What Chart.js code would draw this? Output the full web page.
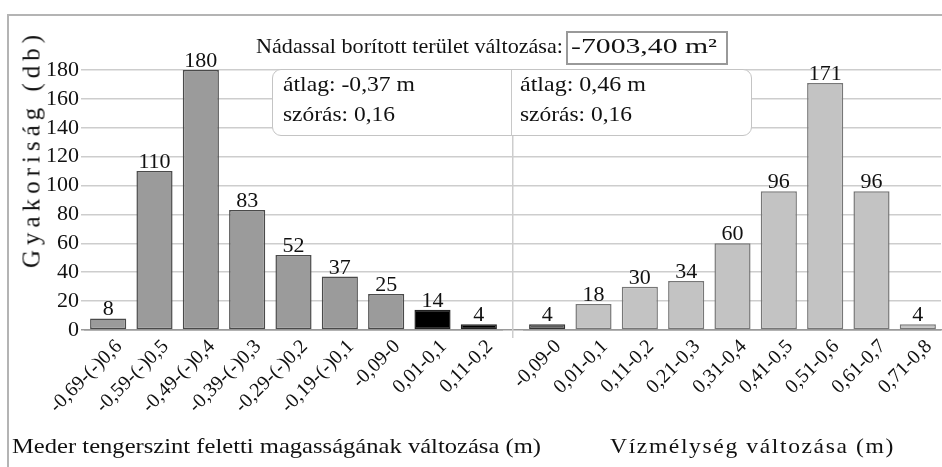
<!DOCTYPE html>
<html>
<head>
<meta charset="utf-8">
<script src="https://cdn.jsdelivr.net/npm/chart.js@4.4.1/dist/chart.umd.min.js"></script>
<style>
  html, body { margin: 0; padding: 0; background: #fff; }
  #wrap { position: relative; width: 942px; height: 467px; overflow: hidden; background: #fff;
          font-family: 'Liberation Serif', 'Times New Roman', serif; color: #111; }
  #frame { position: absolute; left: 7px; top: 14px; width: 980px; height: 500px;
           border-left: 2px solid #b4b4b4; border-top: 2px solid #b4b4b4; }
  canvas { position: absolute; top: 0; }
  #cL { left: 0; }
  #cR { left: 400px; }
  .t { position: absolute; white-space: nowrap; line-height: 22px; transform-origin: 0 50%; display: inline-block; }
  #ytitle { position: absolute; left: 31px; top: 149px; font-size: 25px; letter-spacing: 5px; white-space: nowrap;
            transform: translate(-50%, -50%) rotate(-90deg); line-height: 25px; }
  #valbox { position: absolute; left: 566px; top: 31px; width: 158px; height: 30px; border: 2px solid #999; background: #fff; }
  #stats { position: absolute; left: 272px; top: 69px; width: 478px; height: 65px; border: 1.5px solid #c4c4c4;
           border-radius: 9px; background: #fff; }
  #statsDiv { position: absolute; left: 511px; top: 70px; width: 0; height: 66px; border-left: 1.5px solid #c8c8c8; }
</style>
</head>
<body>
<div id="wrap">
  <div id="frame"></div>
  <canvas id="cL" width="524" height="467"></canvas>
  <canvas id="cR" width="542" height="467"></canvas>
  <div id="ytitle">Gyakoriság (db)</div>
  <div id="valbox"></div>
  <div id="stats"></div>
  <div id="statsDiv"></div>
</div>
<script>
// ---- data ----
const leftCategories = ['-0,69-(-)0,6', '-0,59-(-)0,5', '-0,49-(-)0,4', '-0,39-(-)0,3', '-0,29-(-)0,2', '-0,19-(-)0,1', '-0,09-0', '0,01-0,1', '0,11-0,2'];
const leftValues = [8, 110, 180, 83, 52, 37, 25, 14, 4];
const rightCategories = ['-0,09-0', '0,01-0,1', '0,11-0,2', '0,21-0,3', '0,31-0,4', '0,41-0,5', '0,51-0,6', '0,61-0,7', '0,71-0,8'];
const rightValues = [4, 18, 30, 34, 60, 96, 171, 96, 4];
const yTickValues = [0, 20, 40, 60, 80, 100, 120, 140, 160, 180];
const mainTitle = 'Nádassal borított terület változása:';
const areaChange = '-7003,40 m²';
const leftStats = ['átlag: -0,37 m', 'szórás: 0,16'];
const rightStats = ['átlag: 0,46 m', 'szórás: 0,16'];
const leftAxisTitle = 'Meder tengerszint feletti magasságának változása (m)';
const rightAxisTitle = 'Vízmélység változása (m)';

// ---- styles ----
const F = "'Liberation Serif', 'Times New Roman', serif";
const GRID = '#cdcdcd';
const AXIS = '#9a9a9a';
const leftFill = ['#9b9b9b', '#9b9b9b', '#9b9b9b', '#9b9b9b', '#9b9b9b', '#9b9b9b', '#9b9b9b', '#000000', '#000000'];
const leftBorder = ['#4a4a4a', '#4a4a4a', '#4a4a4a', '#4a4a4a', '#4a4a4a', '#4a4a4a', '#4a4a4a', '#222222', '#222222'];
const rightFill = ['#5c5c5c', '#c3c3c3', '#c3c3c3', '#c3c3c3', '#c3c3c3', '#c3c3c3', '#c3c3c3', '#c3c3c3', '#c3c3c3'];
const rightBorder = ['#333333', '#777777', '#777777', '#777777', '#777777', '#777777', '#777777', '#777777', '#777777'];

function alignPx(p, w) { return Math.round(p - w / 2) + w / 2; }

const valueLabels = {
  id: 'valueLabels',
  afterDatasetsDraw(chart) {
    const ctx = chart.ctx;
    const meta = chart.getDatasetMeta(0);
    const ds = chart.data.datasets[0];
    ctx.save();
    ctx.font = '22px ' + F;
    ctx.fillStyle = '#111';
    ctx.textAlign = 'center';
    ctx.textBaseline = 'alphabetic';
    meta.data.forEach((bar, i) => ctx.fillText(String(ds.data[i]), bar.x, bar.y - 3));
    ctx.restore();
  }
};

// extends horizontal grid lines across the gap between the two panels and draws the divider
const gapLines = {
  id: 'gapLines',
  beforeDatasetsDraw(chart) {
    const ctx = chart.ctx;
    const ys = chart.scales.y;
    const {right, top, bottom} = chart.chartArea;
    ctx.save();
    ctx.lineWidth = 1.5;
    ys.ticks.forEach(t => {
      const y = alignPx(ys.getPixelForValue(t.value), 1.5);
      ctx.strokeStyle = t.value === 0 ? AXIS : GRID;
      ctx.beginPath(); ctx.moveTo(right, y); ctx.lineTo(chart.width, y); ctx.stroke();
    });
    const xd = alignPx((right + chart.width) / 2, 1.5);
    ctx.strokeStyle = GRID;
    ctx.beginPath(); ctx.moveTo(xd, top); ctx.lineTo(xd, bottom + 8); ctx.stroke();
    ctx.restore();
  }
};

function makeChart(id, labels, values, fill, border, showY, padLeft, padRight, extraPlugins) {
  return new Chart(document.getElementById(id), {
    type: 'bar',
    data: {
      labels: labels,
      datasets: [{
        data: values,
        backgroundColor: fill,
        borderColor: border,
        borderWidth: 1.5,
        borderSkipped: false,
        barPercentage: 0.78,
        categoryPercentage: 1
      }]
    },
    options: {
      responsive: false,
      animation: false,
      devicePixelRatio: 1,
      layout: { padding: { left: padLeft, right: padRight, top: 70, bottom: 0 } },
      plugins: { legend: { display: false }, tooltip: { enabled: false }, title: { display: false } },
      scales: {
        x: {
          offset: true,
          grid: { display: false, drawTicks: false },
          border: { display: true, color: AXIS, width: 1.5 },
          ticks: {
            autoSkip: false, minRotation: 45, maxRotation: 45, labelOffset: 11, padding: 5,
            color: '#111', font: { family: F, size: 20 }
          },
          afterFit(s) { s.height = 137; }
        },
        y: {
          min: 0, max: 180,
          afterBuildTicks(s) { s.ticks = yTickValues.map(v => ({ value: v })); },
          grid: {
            color: ctx => (ctx.tick && ctx.tick.value === 0) ? AXIS : GRID,
            lineWidth: 1.5,
            drawTicks: showY,
            tickLength: 4
          },
          border: { display: false },
          ticks: { display: showY, autoSkip: false, padding: 2, color: '#111', font: { family: F, size: 22 } },
          afterFit(s) { s.width = showY ? 85 : 0; }
        }
      }
    },
    plugins: [valueLabels].concat(extraPlugins)
  });
}

makeChart('cL', leftCategories, leftValues, leftFill, leftBorder, true, 0, 22, [gapLines]);
makeChart('cR', rightCategories, rightValues, rightFill, rightBorder, false, 124, 1, []);

// ---- text overlays ----
const wrap = document.getElementById('wrap');
function addText(txt, left, top, size, targetW, extraStyle) {
  const el = document.createElement('div');
  el.className = 't';
  el.textContent = txt;
  el.style.left = left + 'px';
  el.style.top = top + 'px';
  el.style.fontSize = size + 'px';
  if (extraStyle) Object.assign(el.style, extraStyle);
  wrap.appendChild(el);
  if (targetW) {
    const w = el.getBoundingClientRect().width;
    el.style.transform = 'scaleX(' + (targetW / w) + ')';
  }
  return el;
}
addText(mainTitle, 256, 35, 21, 307);
addText(areaChange, 571, 35, 21, 146);
addText(leftStats[0], 283, 73, 21, 132);
addText(leftStats[1], 283, 103, 21, 112);
addText(rightStats[0], 520, 73, 21, 126);
addText(rightStats[1], 520, 103, 21, 112);
addText(leftAxisTitle, 12, 435, 22, 529);
addText(rightAxisTitle, 610, 435, 22, 285, { letterSpacing: '1.5px' });
</script>
</body>
</html>
